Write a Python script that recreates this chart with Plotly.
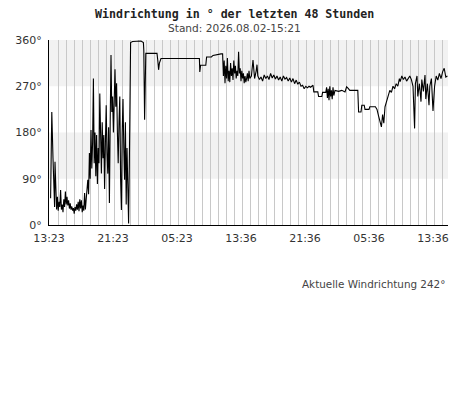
import plotly.graph_objects as go

# time in hours since 13:23 (start of window), wind direction in degrees
hours = [
    0.20, 0.35, 0.50, 0.60, 0.70, 0.75, 0.85, 0.95, 1.05, 1.15, 1.25, 1.35, 1.45, 1.55, 1.65, 1.75,
    1.85, 1.95, 2.05, 2.15, 2.25, 2.35, 2.45, 2.55, 2.65, 2.75, 2.85, 2.95, 3.05, 3.15, 3.25, 3.35,
    3.45, 3.55, 3.65, 3.75, 3.85, 3.95, 4.05, 4.15, 4.25, 4.35, 4.45, 4.55, 4.65, 4.75,
    4.85, 4.95, 5.05, 5.15, 5.25, 5.35, 5.45, 5.55, 5.65, 5.75, 5.85, 5.95, 6.05, 6.15, 6.25, 6.35,
    6.45, 6.55, 6.65, 6.75, 6.85, 6.95, 7.05, 7.15, 7.25, 7.35, 7.45, 7.55, 7.65, 7.75, 7.85, 7.95,
    8.05, 8.15, 8.25, 8.35, 8.45, 8.55, 8.65, 8.75, 8.85, 8.95, 9.05, 9.15, 9.25, 9.35, 9.45, 9.55,
    9.65, 9.75, 9.85, 9.95, 10.05, 10.20,
    10.45, 11.0, 11.5, 11.8, 11.85, 11.95, 12.05, 12.1, 13.0, 13.5, 13.6, 13.7, 13.8, 14.0, 18.8,
    18.85, 18.95, 19.6, 19.7, 20.3, 20.5, 21.0, 21.5,
    21.7, 21.8, 21.9, 22.0, 22.1, 22.2, 22.3, 22.4, 22.5, 22.6, 22.7, 22.8, 22.9, 23.0, 23.1, 23.2,
    23.3, 23.4, 23.5, 23.6, 23.7, 23.8, 23.9, 24.0, 24.1, 24.2, 24.3, 24.4, 24.5, 24.6, 24.7, 24.8,
    24.9, 25.0, 25.1,
    25.3, 25.5, 25.6, 25.7, 25.9, 26.0, 26.1, 26.3, 26.5, 26.7, 26.9, 27.1, 27.3, 27.5, 27.7, 27.9,
    28.1, 28.3, 28.5, 28.7, 28.9, 29.1, 29.3, 29.5, 29.7, 29.9, 30.1, 30.3, 30.5, 30.7, 30.9, 31.1,
    31.3, 31.5, 31.7, 31.9, 32.1, 32.3, 32.5,
    32.7, 33.0, 33.1, 33.6, 33.7, 34.1, 34.2, 34.6, 34.7, 34.8, 34.9, 35.0, 35.1, 35.2, 35.3, 35.4,
    35.5, 35.6, 35.75, 36.2, 36.6, 37.0, 37.2, 37.4, 37.6, 38.6, 38.7, 39.0, 39.1, 39.4, 39.5, 40.0,
    40.1, 40.8, 41.0, 41.2, 41.4, 41.55, 41.7, 41.85, 42.0, 42.2, 42.4, 42.6, 42.8, 43.0, 43.2, 43.4,
    43.6, 43.8, 43.9, 44.1, 44.3, 44.5, 44.7, 44.9, 45.1, 45.3, 45.5, 45.7, 45.8, 46.0, 46.1, 46.3,
    46.5, 46.6, 46.8, 47.0, 47.1, 47.3, 47.5, 47.6, 47.8, 48.0, 48.2, 48.4, 48.6, 48.8, 49.0, 49.2,
    49.4, 49.6, 49.8,
]
direction = [
    52, 220, 130, 45, 35, 123, 40, 30, 55, 28, 45, 35, 68, 30, 40, 25,
    50, 35, 65, 40, 55, 38, 48, 32, 42, 30, 36, 28, 33, 22, 35, 28,
    40, 30, 45, 27, 50, 32, 48, 25, 38, 28, 62, 30, 50, 75,
    88, 60, 140, 90, 185, 110, 160, 285, 120, 180, 95, 175, 80, 150, 120, 256,
    150, 100, 200, 130, 175, 70, 160, 233, 140, 100, 190, 43, 200, 331, 220, 250,
    180, 270, 303, 230, 276, 180, 120, 200, 250, 90, 29, 180, 245, 150, 88, 200,
    40, 150, 60, 3, 130, 355,
    357, 357, 358, 355, 340, 205, 334, 334, 334, 334, 320, 302, 315, 324, 324,
    298, 311, 311, 327, 327, 330, 332, 333,
    333, 290, 320, 276, 310, 285, 325, 280, 300, 278, 315, 290, 305, 282, 320, 295,
    310, 285, 300, 290, 337, 295, 305, 280, 300, 285, 295, 276, 290, 278, 285, 295,
    280, 300, 285,
    290, 321, 295, 285, 300, 312, 290, 283, 288, 280, 292, 285, 290, 283, 295, 286,
    292, 284, 290, 282, 288, 280, 290, 284, 287, 280, 286, 278, 285, 275, 282, 274,
    278, 270, 272, 265, 270, 267, 270,
    268, 272, 259, 259, 250, 250, 258, 258, 268, 247, 265, 243, 270, 250, 262, 245,
    268, 252, 262, 260, 262, 259, 269, 266, 262, 262, 220, 220, 233, 233, 225, 225,
    230, 230, 225, 212, 200, 191, 215, 198, 230, 240, 250, 262, 258, 270, 265, 275,
    270, 285, 279, 290, 283, 288, 280, 285, 290, 283, 270, 188, 275, 290, 250, 275,
    240, 283, 260, 292, 245, 275, 233, 270, 285, 222, 270, 290, 282, 295, 285, 298,
    305, 288, 290,
]

tick_hours = [0, 8, 16, 24, 32, 40, 48]
tick_labels = ["13:23", "21:23", "05:23", "13:36", "21:36", "05:36", "13:36"]
y_ticks = [0, 90, 180, 270, 360]
y_labels = ["0°", "90°", "180°", "270°", "360°"]
bands = [(90, 180), (270, 360)]

title_text = "Windrichtung in ° der letzten 48 Stunden"
subtitle_text = "Stand: 2026.08.02-15:21"
current_text = "Aktuelle Windrichtung 242°"

# the page body adds an 8px offset; figure sized so the plot lands where the reference has it
OFF = 8
W, H = 468 - OFF, 415 - OFF
L, R, T, B = 49 - OFF, 20, 40 - OFF, 190
pw = W - L - R
ph = H - T - B


def px_x(x):
    # screen x -> paper fraction
    return (x - OFF - L) / pw


def px_y(y):
    # screen y -> paper fraction
    return (H - B - (y - OFF)) / ph


fig = go.Figure()
fig.add_trace(go.Scatter(x=hours, y=direction, mode="lines",
                         line=dict(color="black", width=1.1), hoverinfo="skip"))

for lo, hi in bands:
    fig.add_shape(type="rect", xref="paper", yref="y", x0=0, x1=1, y0=lo, y1=hi,
                  fillcolor="#f2f2f2", line=dict(width=0), layer="below")

fig.update_layout(
    width=W, height=H,
    margin=dict(l=L, r=R, t=T, b=B, autoexpand=False),
    paper_bgcolor="white", plot_bgcolor="white",
    showlegend=False,
    font=dict(family="DejaVu Sans", size=11, color="#333333"),
    annotations=[
        dict(text="<b>" + title_text + "</b>", x=px_x(234), y=px_y(14),
             xref="paper", yref="paper", xanchor="center", yanchor="middle",
             showarrow=False, font=dict(family="DejaVu Sans Mono", size=11.6, color="#222222")),
        dict(text=subtitle_text, x=px_x(234), y=px_y(28),
             xref="paper", yref="paper", xanchor="center", yanchor="middle",
             showarrow=False, font=dict(family="DejaVu Sans", size=10.6, color="#444444")),
        dict(text=current_text, x=px_x(447), y=px_y(284),
             xref="paper", yref="paper", xanchor="right", yanchor="middle",
             showarrow=False, font=dict(family="DejaVu Sans", size=10.4, color="#444444")),
    ],
)

fig.update_xaxes(range=[0, 49.875], tickvals=tick_hours, ticktext=tick_labels,
                 automargin=False, showgrid=False, zeroline=False,
                 showline=True, linecolor="black", linewidth=1,
                 ticks="", ticklabelstandoff=3, tickfont=dict(size=11, color="#333333"),
                 minor=dict(tick0=0.125, dtick=1, showgrid=True, gridcolor="#c8c8c8", gridwidth=1))
fig.update_yaxes(range=[0, 360], tickvals=y_ticks, ticktext=y_labels,
                 automargin=False, showgrid=False, zeroline=False,
                 showline=True, linecolor="black", linewidth=1,
                 ticks="", ticklabelstandoff=4, tickfont=dict(size=11, color="#333333"))

fig.write_html("out.html")
